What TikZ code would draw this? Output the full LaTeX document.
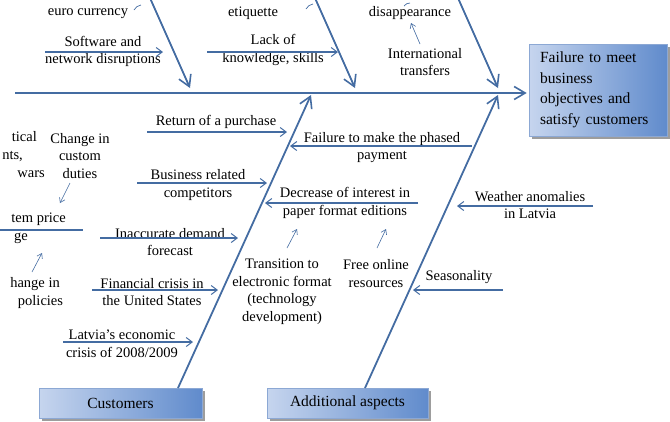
\documentclass[tikz,border=0pt]{standalone}
\usepackage{fontspec}
\setmainfont{Liberation Serif}
\usetikzlibrary{arrows.meta,shadows}
\definecolor{bone}{RGB}{68,108,162}
\definecolor{boxlight}{RGB}{198,213,238}
\definecolor{boxdark}{RGB}{96,139,204}
\definecolor{boxedge}{RGB}{140,168,212}
\begin{document}
\begin{tikzpicture}[x=1pt,y=-1pt,
  lbl/.style={font=\fontsize{14.5}{17.5}\selectfont, align=center, inner sep=0pt, text=black},
  bonemain/.style={draw=bone, line width=1.8pt, -{Straight Barb[length=11pt,width=13pt,line width=1.6pt]}},
  cause/.style={draw=bone, line width=1.1pt, -{Straight Barb[length=6pt,width=9pt,line width=1pt]}},
  subarrow/.style={draw=bone, line width=0.6pt, -{Straight Barb[length=4.5pt,width=6pt,line width=0.6pt]}},
  plainline/.style={draw=bone, line width=1.1pt},
  thinmark/.style={draw=bone, line width=0.7pt},
  catbox/.style={draw=boxedge, line width=0.6pt, left color=boxlight, right color=boxdark,
    drop shadow={shadow xshift=2.5pt, shadow yshift=-2.5pt, fill=black!55, opacity=0.7},
    inner sep=0pt, font=\fontsize{15.5}{20.5}\selectfont},
]
\useasboundingbox (0,0) rectangle (670,421);
\clip (0,0) rectangle (670,421);

% effect and category boxes
\node[catbox, minimum width=138pt, minimum height=92pt, text width=116pt, align=left] (effect) at (598,90)
  {Failure to meet\\business\\objectives and\\satisfy customers};
\node[catbox, minimum width=163pt, minimum height=30pt] (cust) at (120.5,403) {Customers};
\node[catbox, minimum width=161pt, minimum height=30pt] (addl) at (347.5,403) {Additional aspects};

% spine
\coordinate (tail) at (15,93);
\draw[bonemain, shorten >=2pt] (tail) -- (effect.west |- tail);

% top bones
\coordinate (t1s) at (150,-2); \coordinate (t1e) at (190,88);
\coordinate (t2s) at (315,-2); \coordinate (t2e) at (355,88);
\coordinate (t3s) at (458,-2); \coordinate (t3e) at (498,88);
\draw[bonemain] (t1s) -- (t1e);
\draw[bonemain] (t2s) -- (t2e);
\draw[bonemain] (t3s) -- (t3e);

% bottom bones
\coordinate (b1s) at (178,388); \coordinate (b1e) at (311,95);
\coordinate (b2s) at (365,388); \coordinate (b2e) at (498,95);
\draw[bonemain] (b1s) -- (b1e);
\draw[bonemain] (b2s) -- (b2e);

% top labels
\node[lbl] (euro) at (88,14) {euro currency};
\coordinate (m1a) at (134,10); \coordinate (m1b) at (141,5);
\draw[thinmark] (m1a) to[bend left=25] (m1b);
\node[lbl] (sw) at (103,51.5) {Software and\\network disruptions};
\coordinate (sw0) at (45,52); \coordinate (sw1) at (163,52);
\draw[cause] (sw0) -- (sw1);

\node[lbl] (etiq) at (253,13) {etiquette};
\coordinate (m2a) at (306,9); \coordinate (m2b) at (313,4);
\draw[thinmark] (m2a) to[bend left=25] (m2b);
\node[lbl] (lack) at (273,50) {Lack of\\knowledge, skills};
\coordinate (lk0) at (207,52); \coordinate (lk1) at (338,52);
\draw[cause] (lk0) -- (lk1);

\node[lbl] (disap) at (410,13) {disappearance};
\coordinate (m3a) at (404,6); \coordinate (m3b) at (410,3);
\draw[thinmark] (m3a) to[bend left=25] (m3b);
\node[lbl] (intl) at (425,62) {International\\transfers};
\coordinate (in0) at (420,44); \coordinate (in1) at (411,23);
\draw[subarrow] (in0) -- (in1);

% customers side
\node[lbl] (ret) at (216,122) {Return of a purchase};
\coordinate (rt0) at (147,132); \coordinate (rt1) at (287,132);
\draw[cause] (rt0) -- (rt1);

\node[lbl] (bus) at (198,185) {Business related\\competitors};
\coordinate (bu0) at (137,183); \coordinate (bu1) at (267,183);
\draw[cause] (bu0) -- (bu1);

\node[lbl] (inacc) at (170,242) {Inaccurate demand\\forecast};
\coordinate (ia0) at (100,238); \coordinate (ia1) at (238,238);
\draw[cause] (ia0) -- (ia1);

\node[lbl] (fin) at (152,292) {Financial crisis in\\the United States};
\coordinate (fn0) at (92,290); \coordinate (fn1) at (218,290);
\draw[cause] (fn0) -- (fn1);

\node[lbl] (latv) at (122,343.5) {Latvia’s economic\\crisis of 2008/2009};
\coordinate (lv0) at (63,342); \coordinate (lv1) at (193,342);
\draw[cause] (lv0) -- (lv1);

% far-left partly cut labels
\node[lbl, anchor=base east] (pol1) at (37,141) {tical};
\node[lbl, anchor=base east] (pol2) at (23,159) {nts,};
\node[lbl, anchor=base east] (pol3) at (45,177) {wars};
\node[lbl] (cust2) at (80,156) {Change in\\custom\\duties};
\coordinate (cd0) at (70,183); \coordinate (cd1) at (60,203);
\draw[subarrow] (cd0) -- (cd1);
\node[lbl, anchor=base east] (ip1) at (66,222) {tem price};
\node[lbl, anchor=base east] (ip2) at (28,240) {ge};
\coordinate (ipl0) at (-2,230); \coordinate (ipl1) at (83,230);
\draw[plainline] (ipl0) -- (ipl1);
\coordinate (cp0) at (32,272); \coordinate (cp1) at (42,253);
\draw[subarrow] (cp0) -- (cp1);
\node[lbl, anchor=base east] (chp1) at (60,287) {hange in};
\node[lbl, anchor=base] (chp2) at (40.5,305) {policies};

% additional aspects side
\node[lbl] (fail) at (382,147.5) {Failure to make the phased\\payment};
\coordinate (fl0) at (472,146); \coordinate (fl1) at (290,146);
\draw[cause] (fl0) -- (fl1);

\node[lbl] (decr) at (345,203) {Decrease of interest in\\paper format editions};
\coordinate (dc0) at (418,203); \coordinate (dc1) at (265,203);
\draw[cause] (dc0) -- (dc1);

\node[lbl] (trans) at (282,291.5) {Transition to\\electronic format\\(technology\\development)};
\coordinate (tr0) at (287,248); \coordinate (tr1) at (297,229);
\draw[subarrow] (tr0) -- (tr1);

\node[lbl] (free) at (376,273.5) {Free online\\resources};
\coordinate (fr0) at (377,248); \coordinate (fr1) at (386,229);
\draw[subarrow] (fr0) -- (fr1);

\node[lbl] (weather) at (530,205) {Weather anomalies\\in Latvia};
\coordinate (we0) at (593,206); \coordinate (we1) at (457,206);
\draw[cause] (we0) -- (we1);

\node[lbl] (seas) at (459,277) {Seasonality};
\coordinate (se0) at (503,290); \coordinate (se1) at (413,290);
\draw[cause] (se0) -- (se1);
\end{tikzpicture}
\end{document}
